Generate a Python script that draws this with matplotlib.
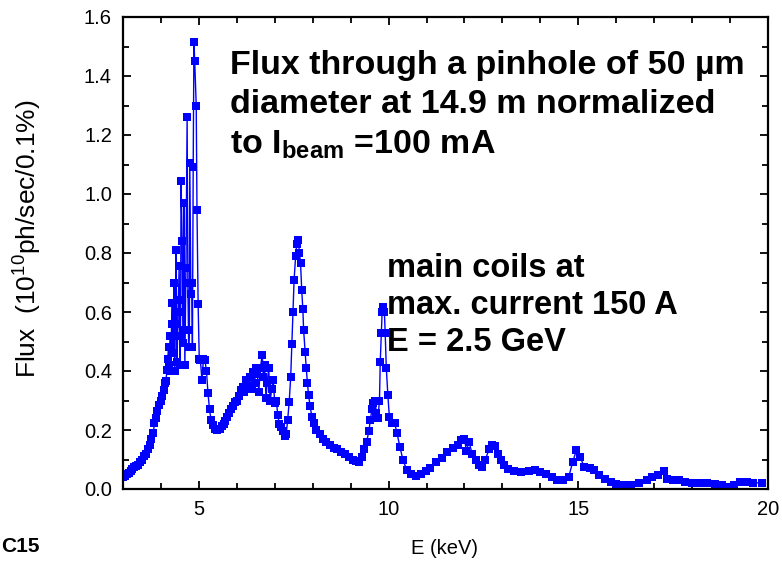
"""
Flux through a pinhole vs. photon energy (undulator spectrum).
Writes out.png (782x562).
"""

import matplotlib
matplotlib.use("Agg")
import matplotlib.pyplot as plt
from matplotlib.ticker import MultipleLocator

plt.rcParams["font.family"] = ["Liberation Sans", "DejaVu Sans"]
plt.rcParams["mathtext.fontset"] = "custom"
plt.rcParams["mathtext.rm"] = "Liberation Sans"
plt.rcParams["mathtext.bf"] = "Liberation Sans:bold"

# energy (keV) and flux (1e10 ph/sec/0.1%)
energy = [
    3.00, 3.05, 3.10, 3.15, 3.20, 3.25, 3.30, 3.35, 3.40, 3.45, 3.50, 3.55,
    3.60, 3.65, 3.70, 3.75, 3.80, 3.83, 3.86, 3.90, 3.95, 4.00, 4.04, 4.07,
    4.10, 4.13, 4.16, 4.18, 4.20, 4.22, 4.24, 4.26, 4.28, 4.30, 4.32, 4.34,
    4.36, 4.38, 4.40, 4.42, 4.44, 4.46, 4.48, 4.50, 4.52, 4.53, 4.56, 4.58,
    4.60, 4.61, 4.63, 4.66, 4.69, 4.71, 4.73, 4.75, 4.76, 4.79, 4.81, 4.83,
    4.85, 4.87, 4.89, 4.93, 4.95, 4.98, 5.01, 5.04, 5.08, 5.12, 5.16, 5.20,
    5.24, 5.28, 5.32, 5.37, 5.42, 5.48, 5.55, 5.60, 5.65, 5.70, 5.75, 5.80,
    5.85, 5.90, 5.95, 6.00, 6.05, 6.10, 6.15, 6.20, 6.25, 6.30, 6.35, 6.40,
    6.43, 6.47, 6.50, 6.54, 6.58, 6.62, 6.67, 6.70, 6.73, 6.77, 6.80, 6.84,
    6.88, 6.92, 6.96, 7.00, 7.04, 7.08, 7.12, 7.17, 7.22, 7.27, 7.30, 7.34,
    7.38, 7.42, 7.45, 7.48, 7.51, 7.55, 7.58, 7.62, 7.65, 7.68, 7.71, 7.74,
    7.76, 7.80, 7.83, 7.86, 7.89, 7.93, 7.98, 8.03, 8.10, 8.18, 8.26, 8.35,
    8.45, 8.55, 8.65, 8.75, 8.85, 8.95, 9.05, 9.15, 9.22, 9.30, 9.36, 9.42,
    9.48, 9.52, 9.56, 9.60, 9.64, 9.68, 9.72, 9.76, 9.78, 9.81, 9.83, 9.86,
    9.89, 9.91, 9.94, 9.98, 10.02, 10.08, 10.16, 10.22, 10.30, 10.38, 10.48,
    10.60, 10.72, 10.85, 10.98, 11.10, 11.25, 11.40, 11.55, 11.70, 11.82,
    11.92, 12.00, 12.05, 12.12, 12.20, 12.30, 12.38, 12.45, 12.55, 12.65,
    12.72, 12.80, 12.88, 12.95, 13.05, 13.15, 13.30, 13.50, 13.70, 13.85,
    14.00, 14.15, 14.30, 14.45, 14.60, 14.75, 14.85, 14.95, 15.05, 15.15,
    15.30, 15.42, 15.55, 15.70, 15.85, 16.00, 16.20, 16.40, 16.60, 16.80,
    16.95, 17.10, 17.25, 17.35, 17.50, 17.65, 17.80, 18.00, 18.20, 18.40,
    18.60, 18.80, 18.95, 19.10, 19.25, 19.45, 19.60, 19.85,
]
flux = [
    0.040, 0.045, 0.050, 0.055, 0.062, 0.068, 0.075, 0.078, 0.082, 0.090, 0.100, 0.112,
    0.120, 0.135, 0.150, 0.170, 0.190, 0.225, 0.240, 0.265, 0.285, 0.300, 0.315, 0.335,
    0.360, 0.365, 0.405, 0.440, 0.480, 0.420, 0.520, 0.400, 0.560, 0.630, 0.460, 0.700,
    0.400, 0.560, 0.810, 0.430, 0.520, 0.640, 0.756, 0.420, 0.600, 1.044, 0.840, 0.495,
    0.540, 0.970, 0.420, 0.750, 1.260, 0.700, 0.480, 0.540, 1.105, 0.660, 0.700, 0.480,
    1.090, 1.515, 1.450, 1.300, 0.946, 0.627, 0.440, 0.437, 0.370, 0.440, 0.437, 0.400,
    0.325, 0.270, 0.235, 0.218, 0.205, 0.200, 0.205, 0.212, 0.220, 0.230, 0.245, 0.257,
    0.270, 0.282, 0.295, 0.300, 0.315, 0.335, 0.345, 0.330, 0.370, 0.350, 0.380, 0.340,
    0.395, 0.360, 0.410, 0.390, 0.330, 0.410, 0.454, 0.380, 0.420, 0.310, 0.360, 0.410,
    0.300, 0.340, 0.370, 0.290, 0.300, 0.250, 0.220, 0.210, 0.195, 0.180, 0.185, 0.234,
    0.295, 0.380, 0.490, 0.600, 0.710, 0.790, 0.830, 0.845, 0.800, 0.766, 0.675, 0.610,
    0.540, 0.465, 0.410, 0.360, 0.320, 0.280, 0.245, 0.225, 0.200, 0.185, 0.170, 0.160,
    0.150, 0.140, 0.135, 0.125, 0.118, 0.108, 0.100, 0.095, 0.090, 0.110, 0.135, 0.160,
    0.195, 0.235, 0.270, 0.290, 0.300, 0.257, 0.240, 0.300, 0.430, 0.530, 0.600, 0.617,
    0.600, 0.530, 0.410, 0.320, 0.245, 0.223, 0.223, 0.190, 0.142, 0.098, 0.064,
    0.050, 0.045, 0.050, 0.060, 0.070, 0.090, 0.105, 0.125, 0.140, 0.150,
    0.165, 0.170, 0.130, 0.160, 0.120, 0.100, 0.080, 0.075, 0.100, 0.135,
    0.150, 0.145, 0.120, 0.100, 0.080, 0.068, 0.060, 0.058, 0.060, 0.064,
    0.058, 0.050, 0.040, 0.032, 0.030, 0.042, 0.090, 0.132, 0.110, 0.075,
    0.072, 0.065, 0.048, 0.035, 0.025, 0.018, 0.015, 0.015, 0.020, 0.030,
    0.040, 0.048, 0.062, 0.035, 0.030, 0.032, 0.025, 0.022, 0.022, 0.022,
    0.018, 0.012, 0.008, 0.015, 0.025, 0.025, 0.022, 0.020,
]

fig = plt.figure(figsize=(7.82, 5.62), dpi=100)
ax = fig.add_axes([123 / 782, 1 - 489 / 562, 645 / 782, 472 / 562])

ax.plot(energy, flux, color="#0000ff", linewidth=1.0, marker="s",
        markersize=6, markeredgewidth=0)

ax.set_xlim(3, 20)
ax.set_ylim(0, 1.6)
ax.xaxis.set_major_locator(MultipleLocator(5))
ax.xaxis.set_minor_locator(MultipleLocator(1))
ax.yaxis.set_major_locator(MultipleLocator(0.2))
ax.yaxis.set_minor_locator(MultipleLocator(0.1))
ax.yaxis.set_major_formatter(plt.FormatStrFormatter("%.1f"))
ax.tick_params(which="both", direction="in", top=True, right=True,
               width=1.3, labelsize=14.5)
ax.tick_params(which="major", length=6, pad=8)
ax.tick_params(which="minor", length=4)
for sp in ax.spines.values():
    sp.set_linewidth(1.6)

ax.set_xlabel("E (keV)", fontsize=14.5)
ax.xaxis.set_label_coords(0.499, -0.106)
ax.set_ylabel("Flux  (10$^{10}$ph/sec/0.1%)", fontsize=19)
ax.yaxis.set_label_coords(-0.124, 0.53)

ax.text(230 / 782, 1 - 50 / 562,
        "Flux through a pinhole of 50 µm\ndiameter at 14.9 m normalized\n"
        r"to I$_\mathbf{beam}$ =100 mA",
        transform=fig.transFigure, fontsize=24.5, fontweight="bold",
        va="top", ha="left", linespacing=1.34)
ax.text(387 / 782, 1 - 253 / 562,
        "main coils at\nmax. current 150 A\nE = 2.5 GeV",
        transform=fig.transFigure, fontsize=23.5, fontweight="bold",
        va="top", ha="left", linespacing=1.26)

fig.text(1 / 782, 1 - 547 / 562, "C15", fontsize=15, fontweight="bold",
         va="center", ha="left")

fig.savefig("out.png", dpi=100)
